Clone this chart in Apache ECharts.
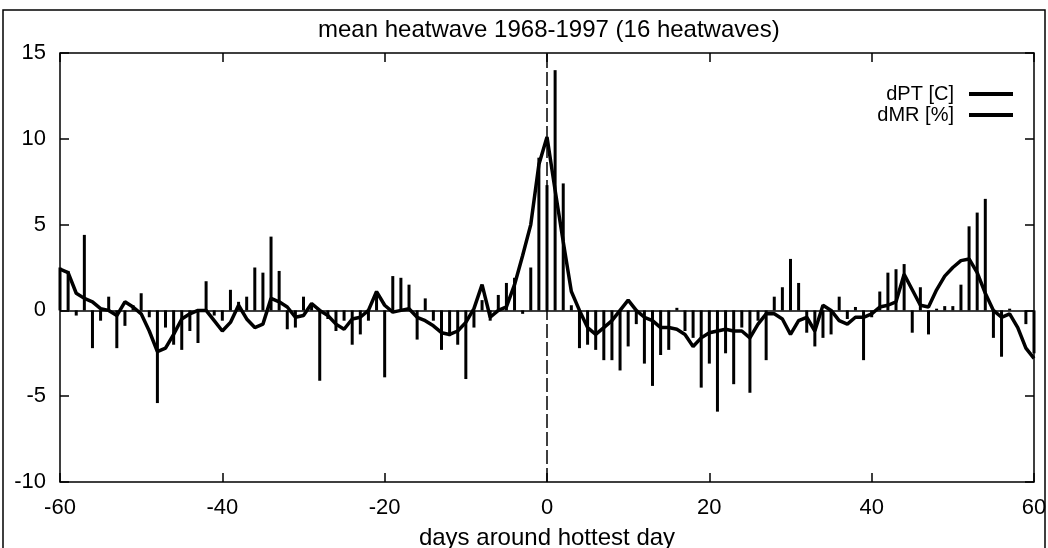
<!DOCTYPE html>
<html>
<head>
<meta charset="utf-8">
<script src="https://cdn.jsdelivr.net/npm/echarts@6/dist/echarts.min.js"></script>
<style>
  html, body { margin: 0; padding: 0; background: #fff; }
  #chart { width: 1048px; height: 548px; }
</style>
</head>
<body>
<div id="chart"></div>
<script>
// days -60 .. 60 around the hottest day
var days = [];
for (var d = -60; d <= 60; d++) days.push(d);

// dPT [C]
var dpt = [
  2.4, 2.2, 1.0, 0.7, 0.5, 0.1, 0.0, -0.3, 0.5, 0.2,
  -0.2, -1.2, -2.4, -2.2, -1.4, -0.5, -0.2, 0.0, 0.0, -0.6,
  -1.2, -0.7, 0.3, -0.5, -1.0, -0.8, 0.7, 0.5, 0.2, -0.4,
  -0.3, 0.4, 0.0, -0.3, -0.8, -1.1, -0.5, -0.4, 0.0, 1.1,
  0.3, -0.1, 0.0, 0.1, -0.4, -0.6, -0.9, -1.3, -1.4, -1.2,
  -0.7, 0.1, 1.5, -0.4, 0.0, 0.2, 1.5, 3.2, 5.0, 8.5,
  10.1, 7.0, 4.0, 1.1, 0.0, -1.0, -1.4, -1.0, -0.6, 0.0,
  0.6, 0.0, -0.4, -0.6, -1.0, -1.0, -1.1, -1.4, -2.1, -1.6,
  -1.3, -1.2, -1.1, -1.2, -1.2, -1.6, -0.8, -0.2, -0.2, -0.5,
  -1.4, -0.6, -0.4, -1.2, 0.3, 0.0, -0.6, -0.8, -0.4, -0.4,
  -0.2, 0.2, 0.3, 0.5, 2.1, 1.2, 0.3, 0.2, 1.2, 2.0,
  2.5, 2.9, 3.0, 2.2, 1.0, 0.0, -0.4, -0.2, -1.0, -2.2, -2.8
];

// dMR [%]
var dmr = [
  2.5, 2.3, -0.3, 4.4, -2.2, -0.6, 0.8, -2.2, -0.9, 0.3,
  1.0, -0.4, -5.4, -1.0, -2.0, -2.3, -1.2, -1.9, 1.7, -0.3,
  -0.6, 1.2, 0.5, 0.8, 2.5, 2.2, 4.3, 2.3, -1.1, -1.0,
  0.8, 0.3, -4.1, -0.5, -1.2, -0.6, -2.0, -1.4, -0.6, 1.0,
  -3.9, 2.0, 1.9, 1.5, -1.7, 0.7, -0.6, -2.3, -1.5, -2.0,
  -4.0, -1.0, 0.6, -0.6, 0.9, 1.6, 1.9, -0.2, 2.5, 8.9,
  7.3, 14.0, 7.4, 0.3, -2.2, -2.0, -2.3, -2.9, -2.9, -3.5,
  -2.1, -0.8, -3.1, -4.4, -2.6, -2.3, 0.15, -1.2, -1.6, -4.5,
  -3.1, -5.9, -2.5, -4.3, -1.0, -4.8, -0.6, -2.9, 0.8, 1.35,
  3.0, 1.6, -1.3, -2.1, -1.6, -1.4, 0.8, -0.5, 0.2, -2.9,
  -0.4, 1.1, 2.2, 2.4, 2.7, -1.3, 1.35, -1.4, 0.1, 0.25,
  0.25, 1.5, 4.9, 5.7, 6.5, -1.6, -2.7, 0.1, 0.0, -0.8, -2.5
];

var xTicks = [-60, -40, -20, 0, 20, 40, 60];
var yTicks = [-10, -5, 0, 5, 10, 15];

var FONT = 'Liberation Sans';
var INK = '#000';

function pairs(xs, ys) {
  return xs.map(function (x, i) { return [x, ys[i]]; });
}

function xAxisDef(pos, labels) {
  return {
    type: 'value', position: pos,
    min: xTicks[0], max: xTicks[xTicks.length - 1], interval: 20,
    axisLine: { show: false, onZero: false },
    axisTick: { show: true, inside: true, length: 9, lineStyle: { color: INK, width: 1.5 } },
    axisLabel: { show: labels, color: INK, fontFamily: FONT, fontSize: 22, margin: 15 },
    splitLine: { show: false }
  };
}

function yAxisDef(pos, labels) {
  return {
    type: 'value', position: pos,
    min: yTicks[0], max: yTicks[yTicks.length - 1], interval: 5,
    axisLine: { show: false, onZero: false },
    axisTick: { show: true, inside: true, length: 9, lineStyle: { color: INK, width: 1.5 } },
    axisLabel: { show: labels, color: INK, fontFamily: FONT, fontSize: 22, margin: 14 },
    splitLine: { show: false }
  };
}

var chart = echarts.init(document.getElementById('chart'), null, { renderer: 'canvas' });

var xBottom = xAxisDef('bottom', true);
xBottom.name = 'days around hottest day';
xBottom.nameLocation = 'middle';
xBottom.nameGap = 44;
xBottom.nameTextStyle = { color: INK, fontFamily: FONT, fontSize: 24 };

var option = {
  animation: false,
  backgroundColor: '#fff',
  textStyle: { fontFamily: FONT },
  title: {
    text: 'mean heatwave 1968-1997 (16 heatwaves)',
    left: 313, top: 13,
    textStyle: { color: INK, fontFamily: FONT, fontSize: 24, fontWeight: 'normal' }
  },
  legend: {
    orient: 'vertical', align: 'right',
    right: 30, top: 79,
    itemWidth: 44, itemHeight: 4, itemGap: 1,
    textStyle: { color: INK, fontFamily: FONT, fontSize: 20, padding: [0, 10, 0, 0] },
    data: [
      { name: 'dPT [C]', icon: 'rect' },
      { name: 'dMR [%]', icon: 'rect' }
    ]
  },
  grid: {
    left: 60, right: 14, top: 53, bottom: 66,
    outerBoundsMode: 'none',
    show: true, borderColor: INK, borderWidth: 1.5, backgroundColor: 'transparent'
  },
  xAxis: [xBottom, xAxisDef('top', false)],
  yAxis: [yAxisDef('left', true), yAxisDef('right', false)],
  graphic: [{
    type: 'rect', silent: true,
    shape: { x: 3, y: 10, width: 1042, height: 560 },
    style: { fill: 'none', stroke: INK, lineWidth: 1.5 }
  }],
  series: [
    {
      name: 'dMR [%]', type: 'bar',
      data: pairs(days, dmr),
      barWidth: 3,
      itemStyle: { color: INK },
      markLine: {
        silent: true, symbol: 'none', label: { show: false },
        data: [
          { xAxis: 0, lineStyle: { color: INK, width: 1.5, type: [14, 4] } },
          { yAxis: 0, lineStyle: { color: INK, width: 1.5, type: 'solid' } }
        ]
      }
    },
    {
      name: 'dPT [C]', type: 'line',
      data: pairs(days, dpt),
      showSymbol: false,
      lineStyle: { color: INK, width: 3.5 },
      itemStyle: { color: INK }
    }
  ]
};

chart.setOption(option);
</script>
</body>
</html>
